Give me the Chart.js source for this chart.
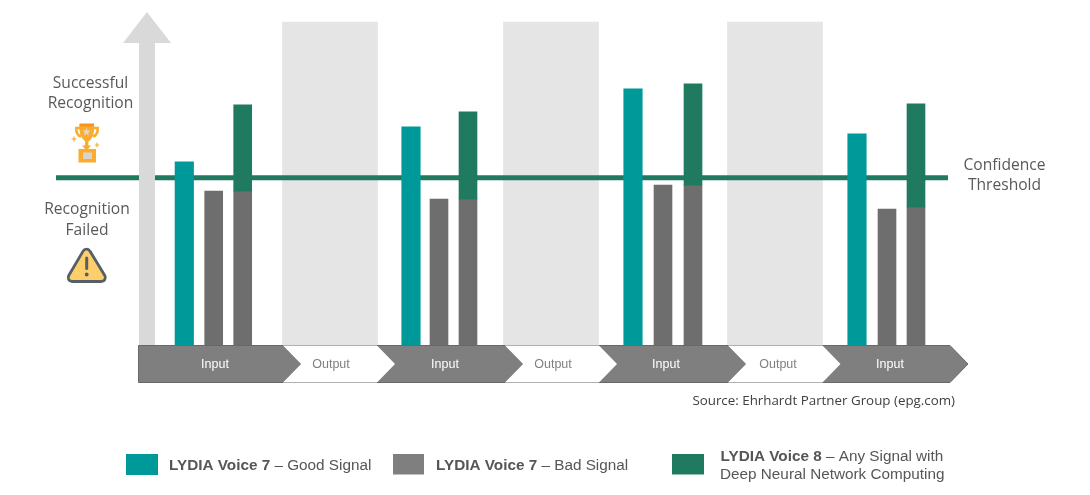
<!DOCTYPE html>
<html>
<head>
<meta charset="utf-8">
<title>LYDIA Voice recognition</title>
<script src="https://cdn.jsdelivr.net/npm/chart.js@4"></script>
<style>
  html, body { margin: 0; padding: 0; background: #fff; }
  canvas { display: block; }
</style>
</head>
<body>
<canvas id="chart" width="1090" height="495"></canvas>
<script>
// x axis runs 0..109 (time along the input/output strip), y axis is confidence 0..100
const goodTimes = [18.43, 41.1, 63.3, 85.7];
const badTimes = [21.37, 43.9, 66.3, 88.7];
const neuralTimes = [24.27, 46.8, 69.3, 91.6];
const outputTimes = [33.0, 55.1, 77.5];

const goodSignal = [55, 65.5, 76.9, 63.4];
const badSignal = [46.2, 43.8, 48, 40.8];
const neuralBase = [46.2, 43.8, 48, 41.4];
const neuralTop = [72.1, 70, 78.4, 72.4];
const outputBand = [97, 97, 97];
const threshold = 50.2;
const thresholdRange = [5.6, 94.8];

const phaseLabels = ['Input', 'Output', 'Input', 'Output', 'Input', 'Output', 'Input'];
const phaseStarts = [13.85, 28.3, 37.7, 50.5, 59.9, 72.8, 82.25];
const phaseEnds = [28.3, 37.7, 50.5, 59.9, 72.8, 82.25, 95];
const phaseTextAt = [21.5, 33.1, 44.5, 55.3, 66.6, 77.8, 89.0];

const TEAL = '#009999';
const BAR_GREY = '#6e6e6e';
const GREEN = '#1f7a60';
const TEXT = '#595959';
const LEGEND_TEXT = '#565656';
const SANS = '"Open Sans"';
const ARIAL = '"Liberation Sans"';

function label(ctx, text, x, y, font, color, align) {
  ctx.font = font;
  ctx.fillStyle = color;
  ctx.textAlign = align || 'center';
  ctx.textBaseline = 'middle';
  ctx.fillText(text, x, y);
}

function drawArrow(ctx, bottom) {
  ctx.fillStyle = '#d9d9d9';
  ctx.beginPath();
  ctx.moveTo(139, bottom);
  ctx.lineTo(139, 43);
  ctx.lineTo(123, 43);
  ctx.lineTo(147, 12);
  ctx.lineTo(171, 43);
  ctx.lineTo(155, 43);
  ctx.lineTo(155, bottom);
  ctx.closePath();
  ctx.fill();
}

function drawStrip(chart) {
  const ctx = chart.ctx;
  const xs = chart.scales.x;
  const top = chart.chartArea.bottom + 0.5;
  const bottom = top + 37;
  const mid = (top + bottom) / 2;
  const tip = 18;
  phaseLabels.forEach((name, i) => {
    const a = xs.getPixelForValue(phaseStarts[i]);
    const b = xs.getPixelForValue(phaseEnds[i]);
    const isInput = name === 'Input';
    ctx.beginPath();
    ctx.moveTo(a, top);
    ctx.lineTo(b, top);
    ctx.lineTo(b + tip, mid);
    ctx.lineTo(b, bottom);
    ctx.lineTo(a, bottom);
    if (i > 0) ctx.lineTo(a + tip, mid);
    ctx.closePath();
    ctx.fillStyle = isInput ? '#7f7f7f' : '#ffffff';
    ctx.fill();
    ctx.lineWidth = 1;
    ctx.strokeStyle = isInput ? '#686868' : '#b0b0b0';
    ctx.beginPath();
    ctx.moveTo(a, top);
    ctx.lineTo(b, top);
    if (isInput) {
      ctx.lineTo(b + tip, mid);
      ctx.lineTo(b, bottom);
    } else {
      ctx.moveTo(b, bottom);
    }
    ctx.lineTo(a, bottom);
    if (i === 0) ctx.lineTo(a, top);
    ctx.stroke();
  });
  phaseLabels.forEach((name, i) => {
    label(ctx, name, xs.getPixelForValue(phaseTextAt[i]), mid + 0.5, '12.5px ' + ARIAL,
      name === 'Input' ? '#ffffff' : '#7f7f7f');
  });
}

function drawTrophy(ctx) {
  const gold = '#fbac2e';
  const dark = '#f7941d';
  ctx.lineCap = 'butt';
  // handles
  ctx.strokeStyle = gold;
  ctx.lineWidth = 2.6;
  ctx.beginPath();
  ctx.moveTo(80, 128);
  ctx.lineTo(76.3, 128);
  ctx.quadraticCurveTo(76, 135, 81, 136.5);
  ctx.moveTo(93, 128);
  ctx.lineTo(97.7, 128);
  ctx.quadraticCurveTo(98, 135, 93, 136.5);
  ctx.stroke();
  // cup
  ctx.fillStyle = gold;
  ctx.beginPath();
  ctx.moveTo(79.5, 125);
  ctx.lineTo(94, 125);
  ctx.lineTo(94, 131);
  ctx.quadraticCurveTo(93, 140, 87, 142);
  ctx.quadraticCurveTo(81, 140, 79.5, 131);
  ctx.closePath();
  ctx.fill();
  ctx.fillStyle = dark;
  ctx.fillRect(79.5, 123.5, 14.5, 3);
  // star
  ctx.fillStyle = '#dcd8d0';
  ctx.beginPath();
  for (let i = 0; i < 10; i++) {
    const r = i % 2 ? 1.9 : 4.2;
    const a = -Math.PI / 2 + i * Math.PI / 5;
    ctx[i ? 'lineTo' : 'moveTo'](86.5 + r * Math.cos(a), 132 + r * Math.sin(a));
  }
  ctx.closePath();
  ctx.fill();
  // stem and base
  ctx.fillStyle = gold;
  ctx.fillRect(85, 141, 3.4, 8);
  ctx.beginPath();
  ctx.moveTo(82, 145.5);
  ctx.lineTo(91, 145.5);
  ctx.lineTo(88, 149);
  ctx.lineTo(85, 149);
  ctx.closePath();
  ctx.fill();
  ctx.fillRect(78.5, 149, 17.5, 13.5);
  ctx.fillStyle = '#d8d4cc';
  ctx.fillRect(83, 152.5, 9, 6.5);
  // sparkles
  ctx.strokeStyle = gold;
  ctx.lineWidth = 1.2;
  ctx.beginPath();
  ctx.moveTo(71.5, 139); ctx.lineTo(76.5, 139);
  ctx.moveTo(74, 136.5); ctx.lineTo(74, 141.5);
  ctx.moveTo(94.8, 145); ctx.lineTo(99.2, 145);
  ctx.moveTo(97, 142.8); ctx.lineTo(97, 147.2);
  ctx.stroke();
}

function drawWarning(ctx) {
  ctx.lineJoin = 'round';
  ctx.lineCap = 'round';
  // start mid bottom edge so all three corners get rounded
  ctx.beginPath();
  ctx.moveTo(86.7, 281.5);
  ctx.lineTo(72, 281.5);
  ctx.arcTo(65, 281.5, 69, 275, 4);
  ctx.arcTo(86.7, 245, 100, 270, 4);
  ctx.arcTo(108.5, 281.5, 86.7, 281.5, 4);
  ctx.closePath();
  ctx.fillStyle = '#fdcf6b';
  ctx.fill();
  ctx.lineWidth = 2.8;
  ctx.strokeStyle = '#565e66';
  ctx.stroke();
  ctx.lineWidth = 3;
  ctx.beginPath();
  ctx.moveTo(86.7, 258);
  ctx.lineTo(86.7, 268.5);
  ctx.stroke();
  ctx.fillStyle = '#565e66';
  ctx.beginPath();
  ctx.arc(86.7, 274.5, 1.9, 0, Math.PI * 2);
  ctx.fill();
}

function drawLegend(ctx) {
  const boldFont = 'bold 15.3px ' + ARIAL;
  const thinFont = '15.3px ' + ARIAL;
  const pair = (bold, rest, x, y) => {
    label(ctx, bold, x, y, boldFont, LEGEND_TEXT, 'left');
    const w = ctx.measureText(bold).width;
    label(ctx, rest, x + w, y, thinFont, LEGEND_TEXT, 'left');
  };
  ctx.fillStyle = TEAL;
  ctx.fillRect(126, 454, 32, 21);
  pair('LYDIA Voice 7', ' – Good Signal', 169, 466);
  ctx.fillStyle = '#7f7f7f';
  ctx.fillRect(393, 454, 31, 20.5);
  pair('LYDIA Voice 7', ' – Bad Signal', 436, 466);
  ctx.fillStyle = GREEN;
  ctx.fillRect(672, 454, 32, 20.5);
  pair('LYDIA Voice 8', ' – Any Signal with', 720.5, 456.5);
  label(ctx, 'Deep Neural Network Computing', 720, 474.5, thinFont, LEGEND_TEXT, 'left');
}

const decorations = {
  id: 'decorations',
  afterDatasetsDraw(chart) {
    const ctx = chart.ctx;
    ctx.save();
    drawArrow(ctx, chart.chartArea.bottom);
    ctx.restore();
  },
  afterDraw(chart) {
    const ctx = chart.ctx;
    ctx.save();
    drawStrip(chart);
    const f = '15.6px ' + SANS;
    label(ctx, 'Successful', 90.5, 83.5, f, TEXT);
    label(ctx, 'Recognition', 90.5, 104, f, TEXT);
    label(ctx, 'Recognition', 87, 210, f, TEXT);
    label(ctx, 'Failed', 87, 230.5, f, TEXT);
    label(ctx, 'Confidence', 1004.5, 165.5, f, TEXT);
    label(ctx, 'Threshold', 1004.5, 186, f, TEXT);
    label(ctx, 'Source: Ehrhardt Partner Group (epg.com)', 955, 401.5, '13.35px ' + SANS, '#404040', 'right');
    drawLegend(ctx);
    drawTrophy(ctx);
    drawWarning(ctx);
    ctx.restore();
  }
};

new Chart(document.getElementById('chart'), {
  type: 'bar',
  data: {
    datasets: [
      {
        label: 'Neural',
        data: neuralTimes.map((x, i) => ({ x, y: [neuralBase[i], neuralTop[i]] })),
        backgroundColor: GREEN,
        barThickness: 18,
        grouped: false,
        order: 1
      },
      {
        label: 'Neural base',
        data: neuralTimes.map((x, i) => ({ x, y: neuralBase[i] })),
        backgroundColor: BAR_GREY,
        barThickness: 18,
        grouped: false,
        order: 1
      },
      {
        label: 'Bad signal',
        data: badTimes.map((x, i) => ({ x, y: badSignal[i] })),
        backgroundColor: BAR_GREY,
        barThickness: 18,
        grouped: false,
        order: 1
      },
      {
        label: 'Good signal',
        data: goodTimes.map((x, i) => ({ x, y: goodSignal[i] })),
        backgroundColor: TEAL,
        barThickness: 18.5,
        grouped: false,
        order: 1
      },
      {
        type: 'line',
        label: 'Confidence threshold',
        data: thresholdRange.map(x => ({ x, y: threshold })),
        borderColor: GREEN,
        borderWidth: 5,
        pointRadius: 0,
        order: 2
      },
      {
        label: 'Output',
        data: outputTimes.map((x, i) => ({ x, y: outputBand[i] })),
        backgroundColor: '#e6e5e5',
        barThickness: 95,
        grouped: false,
        order: 3
      }
    ]
  },
  options: {
    responsive: false,
    animation: false,
    layout: { padding: { top: 12, bottom: 150, left: 0, right: 0 } },
    plugins: { legend: { display: false }, tooltip: { enabled: false } },
    scales: {
      x: { type: 'linear', min: 0, max: 109, offset: false, display: false },
      y: { min: 0, max: 100, display: false }
    }
  },
  plugins: [decorations]
});
</script>
</body>
</html>
